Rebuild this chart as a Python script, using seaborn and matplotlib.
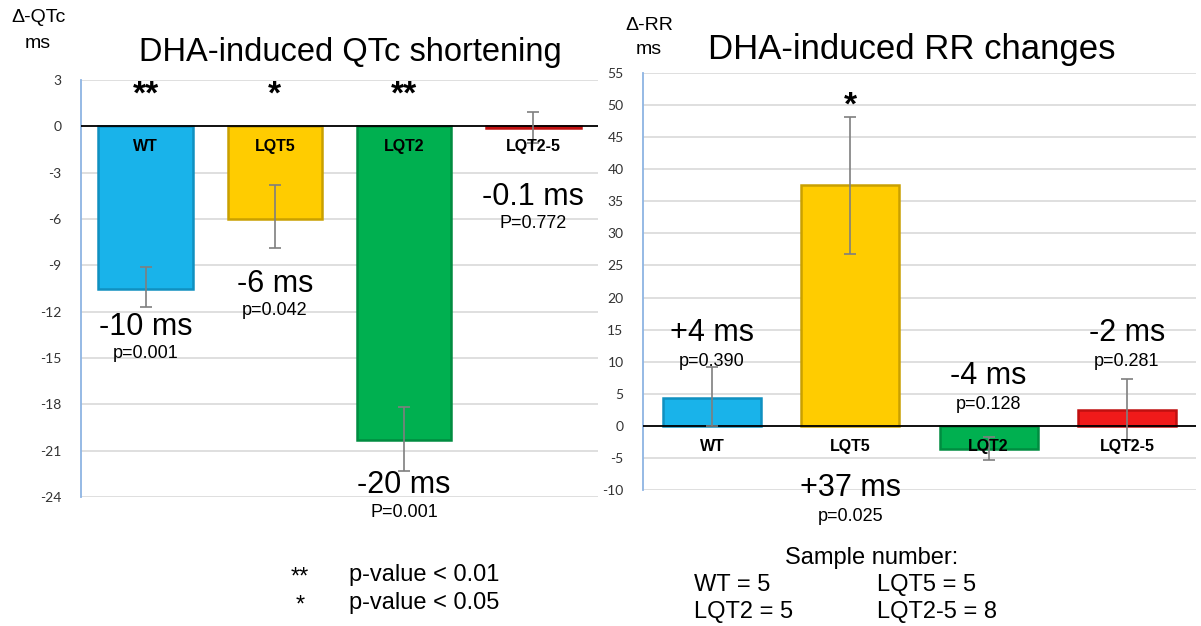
import matplotlib
matplotlib.use("Agg")
import matplotlib.pyplot as plt
import seaborn as sns
import numpy as np

# --- data ---
groups = ["WT", "LQT5", "LQT2", "LQT2-5"]
colors = ["#19B3EA", "#FFCC00", "#00B050", "#F01A1A"]
edge_colors = ["#1090C0", "#C9A000", "#008C40", "#C01010"]

qtc_values = [-10.5, -6.0, -20.3, -0.1]
qtc_err_top = [-9.1, -3.8, -18.2, 0.9]
qtc_err_bottom = [-11.7, -7.9, -22.3, -1.1]
qtc_stars = ["**", "*", "**", ""]
qtc_change_text = ["-10 ms", "-6 ms", "-20 ms", "-0.1 ms"]
qtc_p_text = ["p=0.001", "p=0.042", "P=0.001", "P=0.772"]
qtc_change_y = [-13.0, -10.2, -23.2, -4.6]
qtc_p_y = [-14.7, -11.9, -25.0, -6.3]
qtc_ticks = [3, 0, -3, -6, -9, -12, -15, -18, -21, -24]

rr_values = [4.3, 37.5, -3.6, 2.5]
rr_err_top = [9.2, 48.2, -1.7, 7.3]
rr_err_bottom = [0.0, 26.8, -5.4, -2.2]
rr_stars = ["", "*", "", ""]
rr_change_text = ["+4 ms", "+37 ms", "-4 ms", "-2 ms"]
rr_p_text = ["p=0.390", "p=0.025", "p=0.128", "p=0.281"]
rr_change_y = [14.5, -9.7, 7.8, 14.5]
rr_p_y = [10.0, -14.2, 3.4, 10.0]
rr_ticks = list(range(-10, 56, 5))

sample_n = [5, 5, 5, 8]

FONT = ["Liberation Sans", "DejaVu Sans"]
TICKFONT = ["Lato", "DejaVu Sans"]

sns.set_theme(style="white")
plt.rcParams["font.family"] = FONT
plt.rcParams["text.color"] = "black"

W, H = 1201, 626
fig = plt.figure(figsize=(W / 100, H / 100), dpi=100)


def fx(px):
    return px / W


def fy(py):
    return 1 - py / H


ax1 = fig.add_axes([fx(81), fy(497), fx(598 - 81), fy(80) - fy(497)])
ax2 = fig.add_axes([fx(643), fy(490), fx(1196 - 643), fy(73) - fy(490)])


def draw_panel(ax, values, top, bottom, ylim, ticks, width):
    sns.barplot(x=groups, y=values, hue=groups, palette=colors, ax=ax,
                width=width, legend=False, saturation=1, zorder=3)
    for patch, ec in zip(ax.patches, edge_colors):
        patch.set_edgecolor(ec)
        patch.set_linewidth(1.8)
    xs = np.arange(len(groups))
    vals = np.array(values)
    lo = vals - np.array(bottom)
    hi = np.array(top) - vals
    ax.errorbar(xs, vals, yerr=[lo, hi], fmt="none", ecolor="#7F7F7F",
                elinewidth=1.2, capsize=4, capthick=1.2, zorder=4)
    ax.set_xlim(-0.5, 3.5)
    ax.set_ylim(*ylim)
    ax.set_yticks(ticks)
    ax.set_yticklabels([str(t) for t in ticks], family=TICKFONT,
                       fontsize=10, color="#333333")
    ax.tick_params(axis="y", length=0, pad=14)
    ax.set_xticks([])
    ax.set_xlabel("")
    ax.set_ylabel("")
    ax.grid(axis="y", color="#D9D9D9", linewidth=1.2, zorder=0)
    ax.set_axisbelow(True)
    for s in ["top", "right", "bottom"]:
        ax.spines[s].set_visible(False)
    ax.spines["left"].set_color("#8EB4E3")
    ax.spines["left"].set_linewidth(1.3)
    ax.axhline(0, color="black", linewidth=1.3, zorder=3.5)


draw_panel(ax1, qtc_values, qtc_err_top, qtc_err_bottom, (-24, 3), qtc_ticks, 0.73)
draw_panel(ax2, rr_values, rr_err_top, rr_err_bottom, (-10, 55), rr_ticks, 0.71)

# text inside / around the bars
for i, g in enumerate(groups):
    ax1.text(i, -1.3, g, ha="center", va="center", fontsize=11.5,
             fontweight="bold", zorder=5)
    ax1.text(i, 2.0, qtc_stars[i], ha="center", va="center", fontsize=24,
             fontweight="bold")
    ax1.text(i, qtc_change_y[i], qtc_change_text[i], ha="center", va="center",
             fontsize=22, clip_on=False, zorder=6)
    ax1.text(i, qtc_p_y[i], qtc_p_text[i], ha="center", va="center",
             fontsize=13, clip_on=False, zorder=6)

    ax2.text(i, -3.2, g, ha="center", va="center", fontsize=11.5,
             fontweight="bold", zorder=5)
    ax2.text(i, 49.8, rr_stars[i], ha="center", va="center", fontsize=24,
             fontweight="bold")
    ax2.text(i, rr_change_y[i], rr_change_text[i], ha="center", va="center",
             fontsize=22, clip_on=False, zorder=6)
    ax2.text(i, rr_p_y[i], rr_p_text[i], ha="center", va="center",
             fontsize=13, clip_on=False, zorder=6)

# titles and axis units
fig.text(fx(350), fy(52), "DHA-induced QTc shortening", ha="center",
         va="center", fontsize=23.5)
fig.text(fx(912), fy(50), "DHA-induced RR changes", ha="center",
         va="center", fontsize=25)
fig.text(fx(38), fy(18), "Δ-QTc", ha="center", va="center", fontsize=14)
fig.text(fx(38), fy(43), "ms", ha="center", va="center", fontsize=14)
fig.text(fx(649), fy(25), "Δ-RR", ha="center", va="center", fontsize=14)
fig.text(fx(649), fy(50), "ms", ha="center", va="center", fontsize=14)

# significance legend
fig.text(fx(300), fy(578), "**", ha="center", va="center", fontsize=17)
fig.text(fx(349), fy(575), "p-value < 0.01", ha="left", va="center", fontsize=17)
fig.text(fx(300), fy(606), "*", ha="center", va="center", fontsize=17)
fig.text(fx(349), fy(603), "p-value < 0.05", ha="left", va="center", fontsize=17)

# sample numbers
fig.text(fx(872), fy(558), "Sample number:", ha="center", va="center", fontsize=17)
for i, g in enumerate(groups):
    col = i % 2
    row = i // 2
    x = 694 if col == 0 else 877
    y = 585 if row == 0 else 612
    fig.text(fx(x), fy(y), f"{g} = {sample_n[i]}", ha="left", va="center",
             fontsize=17)

fig.savefig("out.png", dpi=100)
